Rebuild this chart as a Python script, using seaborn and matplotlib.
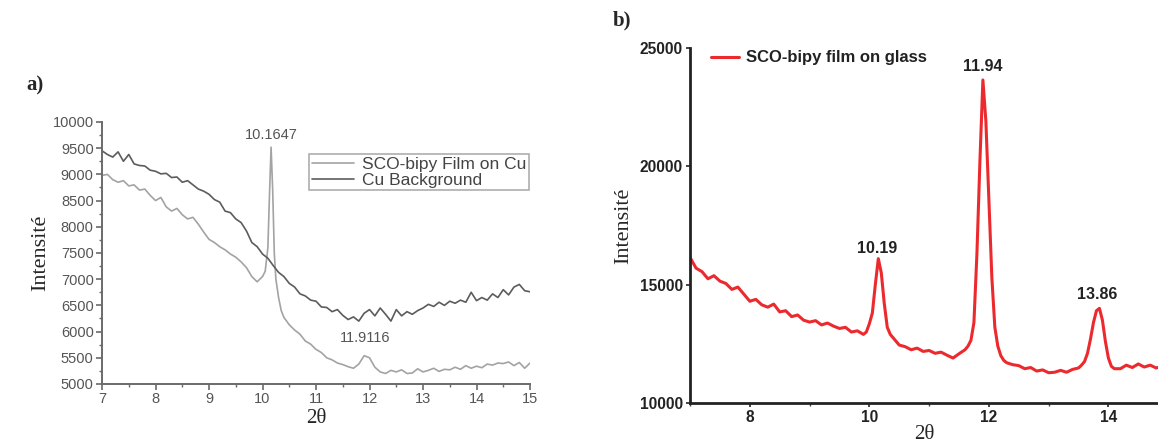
import numpy as np
import pandas as pd
import matplotlib
matplotlib.use("Agg")
import matplotlib.pyplot as plt
from matplotlib.ticker import MultipleLocator
import seaborn as sns

# ---- data: panel a) film on Cu vs Cu background ----
cu_x = np.round(np.arange(7.0, 15.01, 0.1), 2)
cu_bg = [9450, 9380, 9330, 9430, 9250, 9380, 9200, 9170, 9160, 9080,
         9060, 9010, 9020, 8940, 8950, 8850, 8880, 8800, 8720, 8680,
         8620, 8520, 8470, 8300, 8270, 8150, 8080, 7920, 7700, 7620,
         7480, 7400, 7260, 7130, 7050, 6920, 6850, 6720, 6680, 6600,
         6580, 6470, 6460, 6380, 6420, 6310, 6230, 6280, 6200, 6350,
         6420, 6300, 6450, 6330, 6200, 6420, 6300, 6380, 6330, 6400,
         6450, 6520, 6480, 6560, 6500, 6580, 6540, 6600, 6560, 6750,
         6590, 6650, 6600, 6720, 6650, 6800, 6700, 6850, 6900, 6780,
         6760]

film_x = [7.0, 7.1, 7.2, 7.3, 7.4, 7.5, 7.6, 7.7, 7.8, 7.9,
          8.0, 8.1, 8.2, 8.3, 8.4, 8.5, 8.6, 8.7, 8.8, 8.9,
          9.0, 9.1, 9.2, 9.3, 9.4, 9.5, 9.6, 9.7, 9.8, 9.9, 10.0,
          10.05, 10.1, 10.13, 10.16, 10.19, 10.22, 10.25, 10.3, 10.35, 10.4,
          10.5, 10.6, 10.7, 10.8, 10.9, 11.0, 11.1, 11.2, 11.3, 11.4,
          11.5, 11.6, 11.7, 11.8, 11.9, 12.0, 12.1, 12.2, 12.3, 12.4,
          12.5, 12.6, 12.7, 12.8, 12.9, 13.0, 13.1, 13.2, 13.3, 13.4,
          13.5, 13.6, 13.7, 13.8, 13.9, 14.0, 14.1, 14.2, 14.3, 14.4,
          14.5, 14.6, 14.7, 14.8, 14.9, 15.0]
film_cu = [8980, 9000, 8900, 8850, 8880, 8780, 8800, 8700, 8720, 8600,
           8500, 8560, 8380, 8300, 8350, 8230, 8150, 8180, 8050, 7900,
           7760, 7700, 7620, 7560, 7480, 7420, 7330, 7220, 7050, 6950, 7050,
           7150, 7600, 8600, 9520, 8700, 7500, 7000, 6650, 6400, 6270,
           6130, 6030, 5950, 5820, 5760, 5660, 5600, 5500, 5460, 5400,
           5370, 5330, 5300, 5380, 5540, 5500, 5320, 5230, 5200, 5260,
           5230, 5270, 5200, 5210, 5290, 5230, 5260, 5300, 5240, 5280,
           5270, 5320, 5280, 5350, 5300, 5340, 5310, 5380, 5360, 5400,
           5390, 5420, 5350, 5410, 5300, 5400]

# ---- data: panel b) film on glass ----
glass_x = [7.0, 7.1, 7.2, 7.3, 7.4, 7.5, 7.6, 7.7, 7.8, 7.9,
           8.0, 8.1, 8.2, 8.3, 8.4, 8.5, 8.6, 8.7, 8.8, 8.9,
           9.0, 9.1, 9.2, 9.3, 9.4, 9.5, 9.6, 9.7, 9.8, 9.9,
           9.95, 10.0, 10.05, 10.1, 10.15, 10.2, 10.25, 10.3, 10.35, 10.4, 10.45,
           10.5, 10.6, 10.7, 10.8, 10.9, 11.0, 11.1, 11.2, 11.3, 11.4, 11.5,
           11.6, 11.65, 11.7, 11.75, 11.8, 11.85, 11.9, 11.95, 12.0, 12.05, 12.1, 12.15, 12.2, 12.25,
           12.3, 12.4, 12.5, 12.6, 12.7, 12.8, 12.9, 13.0, 13.1, 13.2, 13.3, 13.4, 13.5,
           13.55, 13.6, 13.65, 13.7, 13.75, 13.8, 13.85, 13.9, 13.95, 14.0, 14.05, 14.1,
           14.2, 14.3, 14.4, 14.5, 14.6, 14.7, 14.8, 14.9]
glass_int = [16150, 15700, 15550, 15250, 15380, 15150, 15050, 14800, 14900, 14600,
             14300, 14380, 14150, 14050, 14180, 13850, 13900, 13650, 13720, 13500,
             13420, 13480, 13300, 13380, 13250, 13150, 13200, 13000, 13050, 12900,
             13000, 13350, 13800, 15000, 16100, 15500, 14200, 13200, 12900, 12750, 12600,
             12450, 12380, 12250, 12320, 12180, 12220, 12100, 12150, 12020, 11900, 12080,
             12250, 12400, 12650, 13400, 16300, 20200, 23650, 21900, 18600, 15300, 13200, 12400, 12000, 11800,
             11700, 11620, 11580, 11450, 11500, 11350, 11400, 11280, 11300, 11380, 11300, 11420, 11480,
             11600, 11750, 12100, 12700, 13400, 13900, 14000, 13500, 12600, 11900, 11550, 11450,
             11450, 11600, 11500, 11650, 11520, 11600, 11480, 11560]

peaks_a = [(10.16, 9760, "10.1647"), (11.91, 5880, "11.9116")]
peaks_b = [(11.89, 24200, "11.94"), (10.13, 16550, "10.19"), (13.81, 14570, "13.86")]

df_bg = pd.DataFrame({"x": cu_x, "y": cu_bg})
df_film = pd.DataFrame({"x": film_x, "y": film_cu})
df_glass = pd.DataFrame({"x": glass_x, "y": glass_int})

sns.set_theme(style="ticks")
plt.rcParams['font.family'] = ['Liberation Sans', 'DejaVu Sans']

fig = plt.figure(figsize=(11.58, 4.48), dpi=100)
ax1 = fig.add_axes([0.0881, 0.1429, 0.3696, 0.5848])
ax2 = fig.add_axes([0.5959, 0.1004, 0.4041, 0.7924])

# ==========================
# panel a)
# ==========================
sns.lineplot(data=df_film, x="x", y="y", color="#a3a3a3", linewidth=1.2,
             estimator=None, sort=False, label="SCO-bipy Film on Cu", ax=ax1)
sns.lineplot(data=df_bg, x="x", y="y", color="#5c5c5c", linewidth=1.2,
             estimator=None, sort=False, label="Cu Background", ax=ax1)
ax1.set_xlim(7, 15)
ax1.set_ylim(5000, 10000)
ax1.xaxis.set_major_locator(MultipleLocator(1))
ax1.xaxis.set_minor_locator(MultipleLocator(0.5))
ax1.yaxis.set_major_locator(MultipleLocator(500))
ax1.yaxis.set_minor_locator(MultipleLocator(250))
for s in ["top", "right"]:
    ax1.spines[s].set_visible(False)
for s in ["left", "bottom"]:
    ax1.spines[s].set_color("#6a6a6a")
    ax1.spines[s].set_linewidth(1.4)
ax1.tick_params(which="major", direction="out", length=4, width=1.2, color="#6a6a6a",
                labelsize=10.5, labelcolor="#555555", pad=2)
ax1.tick_params(which="minor", direction="out", length=2, width=1, color="#6a6a6a")
ax1.set_xlabel("2θ", family="Liberation Serif", fontsize=15, labelpad=2)
ax1.set_ylabel("Intensité", family="Liberation Serif", fontsize=16, labelpad=2)
leg1 = ax1.legend(loc="upper right", bbox_to_anchor=(0.998, 0.878), frameon=True,
                  fancybox=False, fontsize=12.5, handlelength=2.4, borderpad=0.15,
                  labelspacing=0.05, handletextpad=0.5, borderaxespad=0)
leg1.get_frame().set_edgecolor("#9a9a9a")
leg1.get_frame().set_linewidth(1.2)
for t in leg1.get_texts():
    t.set_color("#444444")
for px, py, txt in peaks_a:
    ax1.text(px, py, txt, ha="center", va="center", fontsize=10.5, color="#555555")

# ==========================
# panel b)
# ==========================
sns.lineplot(data=df_glass, x="x", y="y", color="#ec2a2e", linewidth=2.2,
             estimator=None, sort=False, label="SCO-bipy film on glass", ax=ax2)
ax2.set_xlim(7, 14.83)
ax2.set_ylim(10000, 25000)
ax2.set_xticks([8, 10, 12, 14])
ax2.xaxis.set_minor_locator(MultipleLocator(1))
ax2.set_yticks([10000, 15000, 20000, 25000])
for s in ["top", "right"]:
    ax2.spines[s].set_visible(False)
for s in ["left", "bottom"]:
    ax2.spines[s].set_color("#222222")
    ax2.spines[s].set_linewidth(2)
ax2.tick_params(which="major", direction="out", length=3, width=1.2, color="#222222",
                labelsize=11.2, pad=2)
ax2.tick_params(which="minor", direction="out", length=2, width=1, color="#444444")
for lab in ax2.get_xticklabels() + ax2.get_yticklabels():
    lab.set_fontweight("bold")
    lab.set_color("#222222")
ax2.set_xlabel("2θ", family="Liberation Serif", fontsize=15, labelpad=0)
ax2.set_ylabel("Intensité", family="Liberation Serif", fontsize=16, labelpad=5)
leg2 = ax2.legend(loc="upper left", bbox_to_anchor=(0.03, 1.012), frameon=False,
                  fontsize=12, handlelength=1.7, handletextpad=0.4, borderaxespad=0)
for t in leg2.get_texts():
    t.set_fontweight("bold")
    t.set_color("#222222")
for px, py, txt in peaks_b:
    ax2.text(px, py, txt, ha="center", va="center", fontsize=11.5, fontweight="bold",
             color="#222222")

# panel letters
fig.text(0.023, 0.810, "a)", family="Liberation Serif", fontsize=15, fontweight="bold",
         ha="left", va="center")
fig.text(0.529, 0.955, "b)", family="Liberation Serif", fontsize=15, fontweight="bold",
         ha="left", va="center")

fig.savefig("out.png", dpi=100)
